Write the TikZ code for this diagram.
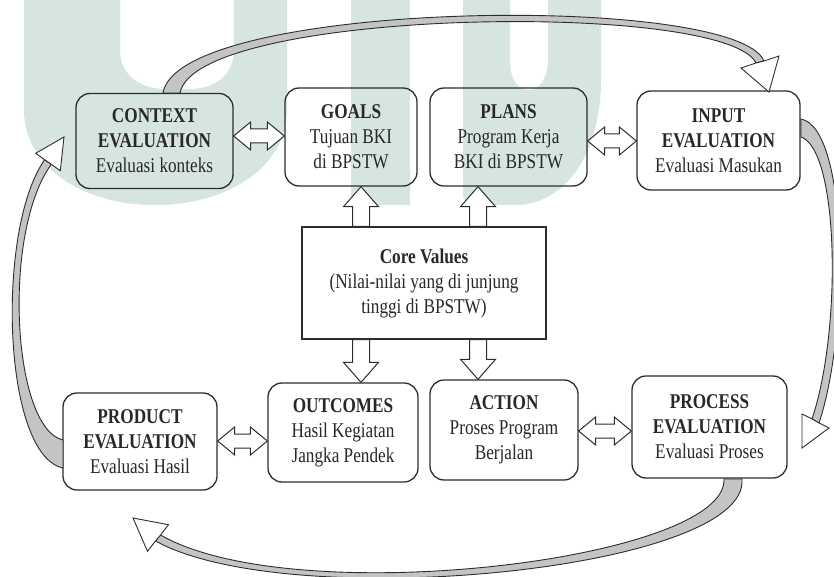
\documentclass[tikz,border=0pt]{standalone}
\usepackage{fontspec}
\setmainfont{Liberation Serif}[FakeStretch=0.82]
\usetikzlibrary{calc}
\newcommand\fsz{\fontsize{21}{25}\selectfont}
\definecolor{edge}{RGB}{45,45,45}
\definecolor{txt}{RGB}{40,40,40}
\definecolor{ribbon}{RGB}{196,196,196}
\definecolor{wm}{RGB}{214,229,221}
\tikzset{
  box/.style={draw=edge, line width=1.3pt, rounded corners=14pt, align=center, inner sep=0pt, font=\fsz, text=txt},
  corebox/.style={draw=edge, line width=1.3pt, align=center, inner sep=0pt, font=\fsz, text=txt},
  blockarr/.style={draw=edge, fill=white, line width=1pt, line join=miter},
  ribbonbody/.style={fill=ribbon, draw=edge, line width=0.9pt},
  ribbonhead/.style={fill=white, draw=edge, line width=0.9pt},
  wmark/.style={fill=wm, draw=none},
}
% horizontal double block arrow between two points at same height
\newcommand\dblH[2]{%
  \path[blockarr] let \p1=#1, \p2=#2 in
    (\p1) -- (\x1+17pt,\y1+14pt) -- (\x1+17pt,\y1+7pt) -- (\x2-17pt,\y1+7pt) -- (\x2-17pt,\y1+14pt)
    -- (\p2) -- (\x2-17pt,\y1-14pt) -- (\x2-17pt,\y1-7pt) -- (\x1+17pt,\y1-7pt) -- (\x1+17pt,\y1-14pt) -- cycle;}
% vertical block arrows: from #1 (tail) to #2 (tip)
\newcommand\vblkup[2]{%
  \path[blockarr] let \p1=#1, \p2=#2 in
    (\x1-8.5pt,\y1) -- (\x1-8.5pt,\y2-20pt) -- (\x1-17.5pt,\y2-20pt) -- (\p2)
    -- (\x1+17.5pt,\y2-20pt) -- (\x1+8.5pt,\y2-20pt) -- (\x1+8.5pt,\y1) -- cycle;}
\newcommand\vblkdn[2]{%
  \path[blockarr] let \p1=#1, \p2=#2 in
    (\x1-8.5pt,\y1) -- (\x1-8.5pt,\y2+20pt) -- (\x1-17.5pt,\y2+20pt) -- (\p2)
    -- (\x1+17.5pt,\y2+20pt) -- (\x1+8.5pt,\y2+20pt) -- (\x1+8.5pt,\y1) -- cycle;}
\begin{document}
\begin{tikzpicture}[x=1pt,y=-1pt]
\useasboundingbox (0,0) rectangle (834,577);
\fill[white] (0,0) rectangle (834,577);

% watermark (light green letters, cropped)
\path[wmark] (24,0) -- (24,110) .. controls (24,165) and (80,205) .. (155,205)
   .. controls (230,205) and (287,165) .. (287,110) -- (287,0) -- (234,0) -- (234,50)
   .. controls (234,75) and (215,89) .. (190,89) -- (165,89)
   .. controls (140,89) and (120,75) .. (120,50) -- (120,0) -- cycle;
\path[wmark] (351,0) -- (351,205) -- (410,205) -- (410,0) -- cycle;
\path[wmark] (463,0) -- (463,195) .. controls (463,202) and (470,205) .. (480,205) -- (520,205)
   .. controls (575,200) and (601,140) .. (601,80) -- (601,0) -- (548,0) -- (548,60)
   .. controls (548,80) and (538,90) .. (529,90) .. controls (518,90) and (510,80) .. (510,60)
   -- (510,0) -- cycle;

% boxes
\node[box, minimum width=157pt, minimum height=95pt] (ctx) at (154.5,141) {\textbf{CONTEXT}\\\textbf{EVALUATION}\\Evaluasi konteks};
\node[box, minimum width=132pt, minimum height=98pt] (goals) at (351,137) {\textbf{GOALS}\\Tujuan BKI\\di BPSTW};
\node[box, minimum width=157pt, minimum height=98pt] (plans) at (508.5,137) {\textbf{PLANS}\\Program Kerja\\BKI di BPSTW};
\node[box, minimum width=163pt, minimum height=99pt] (input) at (718.5,140.5) {\textbf{INPUT}\\\textbf{EVALUATION}\\Evaluasi Masukan};
\node[corebox, minimum width=244pt, minimum height=112pt] (core) at (424,283) {\textbf{Core Values}\\(Nilai-nilai yang di junjung\\tinggi di BPSTW)};
\node[box, minimum width=154pt, minimum height=97pt] (product) at (140,441.5) {\textbf{PRODUCT}\\\textbf{EVALUATION}\\Evaluasi Hasil};
\node[box, minimum width=150pt, minimum height=99pt] (outcomes) at (343,432.5) {\textbf{OUTCOMES}\\Hasil Kegiatan\\Jangka Pendek};
\node[box, minimum width=148pt, minimum height=100pt] (action) at (504,430) {\textbf{ACTION}\\Proses Program\\Berjalan};
\node[box, minimum width=155pt, minimum height=102pt] (process) at (709.5,427) {\textbf{PROCESS}\\\textbf{EVALUATION}\\Evaluasi Proses};

% horizontal double arrows
\dblH{(ctx.east |- 0,136)}{(goals.west |- 0,136)}
\dblH{(plans.east |- 0,141)}{(input.west |- 0,141)}
\dblH{(product.east |- 0,441)}{(outcomes.west |- 0,441)}
\dblH{(action.east |- 0,431)}{(process.west |- 0,431)}

% vertical arrows from core
\vblkup{(361,0 |- core.north)}{(361,0 |- goals.south)}
\vblkup{(478,0 |- core.north)}{(478,0 |- plans.south)}
\vblkdn{(361,0 |- core.south)}{(361,0 |- outcomes.north)}
\vblkdn{(478,0 |- core.south)}{(478,0 |- action.north)}

% top ribbon arrow: context -> input
\path[ribbonbody] (163,93) .. controls (178,0) and (735,-8) .. (764,61)
   -- (756,63) .. controls (725,0) and (196,8) .. (180,93) -- cycle;
\path[ribbonhead] (764,61) -- (779,56) -- (769,92) -- (741,68) -- (756,63) -- cycle;

% right ribbon arrow: input -> process
\path[ribbonbody] (801,119) .. controls (848,128) and (850,330) .. (819,423)
   -- (812,419) .. controls (842,330) and (839,150) .. (801,137) -- cycle;
\path[ribbonhead] (819,423) -- (829,428) -- (802,448) -- (802,414) -- (812,419) -- cycle;

% bottom ribbon arrow: process -> product
\path[ribbonbody] (742,479) .. controls (750,570) and (290,615) .. (155.5,541)
   -- (160.5,535) .. controls (295,612) and (728,560) .. (724,479) -- cycle;
\path[ribbonhead] (155.5,541) -- (147.5,551.3) -- (133,518) -- (168.5,524.7) -- (160.5,535) -- cycle;

% left ribbon arrow: product -> context
\path[ribbonbody] (63,468) .. controls (2,455) and (-4,228) .. (44.7,159.7)
   -- (51.3,164.3) .. controls (2,232) and (12,428) .. (63,440) -- cycle;
\path[ribbonhead] (44.7,159.7) -- (35.7,153.3) -- (64,137) -- (60.3,170.7) -- (51.3,164.3) -- cycle;
\end{tikzpicture}
\end{document}
